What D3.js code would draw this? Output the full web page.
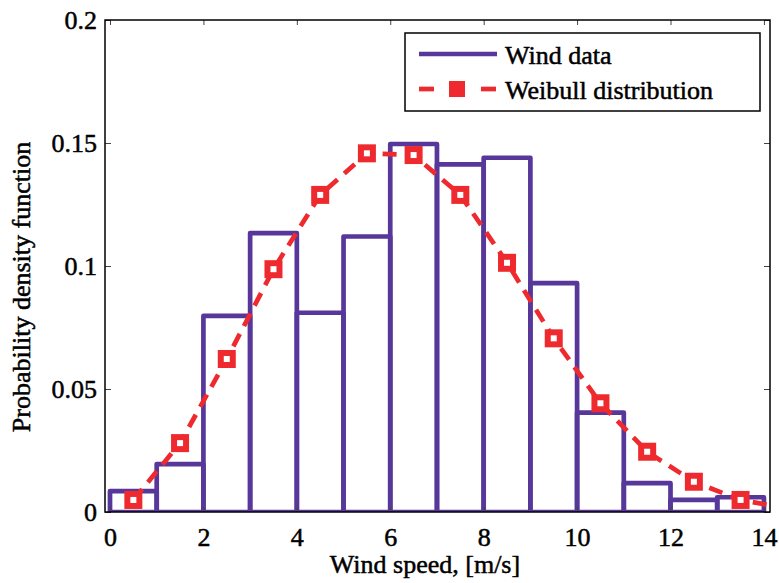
<!DOCTYPE html>
<html>
<head>
<meta charset="utf-8">
<script src="https://cdn.jsdelivr.net/npm/d3@7"></script>
<style>
  body { margin: 0; background: white; }
  text { font-family: "Liberation Serif", "Times New Roman", serif; stroke: black; stroke-width: 0.5px; }
</style>
</head>
<body>
<div id="chart"></div>
<script>
// histogram bins (left edge, 1 m/s wide) and their density
var binLeft = [0, 1, 2, 3, 4, 5, 6, 7, 8, 9, 10, 11, 12, 13];
var windData = [0.0085, 0.0195, 0.0797, 0.1134, 0.081, 0.112, 0.1496, 0.1413, 0.144, 0.093, 0.0404, 0.0117, 0.0049, 0.006];

// fitted weibull, sampled at bin centres (last point runs off the axes)
var weibullX = [0.5, 1.5, 2.5, 3.5, 4.5, 5.5, 6.5, 7.5, 8.5, 9.5, 10.5, 11.5, 12.5, 13.5, 14.5];
var weibullY = [0.0049, 0.028, 0.0622, 0.0987, 0.1289, 0.1458, 0.1451, 0.1289, 0.1013, 0.0706, 0.0442, 0.0245, 0.0123, 0.0049, 0.0015];

var xTicks = [0, 2, 4, 6, 8, 10, 12, 14];
var yTicks = [0, 0.05, 0.1, 0.15, 0.2];

var width = 779, height = 583;
var pLeft = 105, pRight = 770, pTop = 20, pBottom = 512;
var purple = "#57389a", red = "#ee2a2e";

var svg = d3.select("#chart")
  .append("svg")
    .attr("width", width)
    .attr("height", height)
    .style("background", "white");

var x = d3.scaleLinear()
  .domain([-0.107, 14.13])
  .range([pLeft, pRight]);

var y = d3.scaleLinear()
  .domain([0, 0.2])
  .range([pBottom, pTop]);

svg.append("clipPath")
  .attr("id", "plotclip")
  .append("rect")
    .attr("x", pLeft)
    .attr("y", pTop)
    .attr("width", pRight - pLeft)
    .attr("height", pBottom - pTop);

var plot = svg.append("g").attr("clip-path", "url(#plotclip)");

// histogram outlines
plot.append("g")
  .selectAll("rect")
  .data(binLeft)
  .enter()
  .append("rect")
    .attr("x", function(d){ return x(d); })
    .attr("width", function(d){ return x(d + 1) - x(d); })
    .attr("y", function(d, i){ return y(windData[i]); })
    .attr("height", function(d, i){ return y(0) - y(windData[i]); })
    .style("fill", "none")
    .style("stroke", purple)
    .style("stroke-width", 4.7)
    .style("stroke-linejoin", "round");

// weibull dashed line + square markers
var line = d3.line()
  .x(function(d){ return x(d); })
  .y(function(d, i){ return y(weibullY[i]); });

plot.append("path")
  .attr("d", line(weibullX))
  .style("fill", "none")
  .style("stroke", red)
  .style("stroke-width", 4.7)
  .style("stroke-dasharray", "14,9");

plot.append("g")
  .selectAll("rect")
  .data(weibullX)
  .enter()
  .append("rect")
    .attr("x", function(d){ return x(d) - 6; })
    .attr("y", function(d, i){ return y(weibullY[i]) - 6; })
    .attr("width", 12)
    .attr("height", 12)
    .style("fill", "white")
    .style("stroke", red)
    .style("stroke-width", 6);

// axes: ticks point inward on all four sides
var xAxis = svg.append("g")
  .attr("transform", "translate(0," + pBottom + ")")
  .call(d3.axisBottom(x).tickValues(xTicks).tickSizeInner(-5).tickSizeOuter(0).tickFormat(d3.format("d")));
xAxis.selectAll("text").attr("dy", null).attr("y", 34);

var yAxis = svg.append("g")
  .attr("transform", "translate(" + pLeft + ",0)")
  .call(d3.axisLeft(y).tickValues(yTicks).tickSizeInner(-6).tickSizeOuter(0).tickPadding(8)
    .tickFormat(function(d){ return d === 0 ? "0" : String(+d.toFixed(2)); }));

svg.append("g")
  .attr("transform", "translate(0," + pTop + ")")
  .call(d3.axisTop(x).tickValues(xTicks).tickSizeInner(-5).tickSizeOuter(0).tickFormat(""));

svg.append("g")
  .attr("transform", "translate(" + pRight + ",0)")
  .call(d3.axisRight(y).tickValues(yTicks).tickSizeInner(-6).tickSizeOuter(0).tickFormat(""));

svg.selectAll(".domain").remove();
svg.selectAll(".tick line").style("stroke", "#444").style("stroke-width", 1);
svg.selectAll(".tick text")
  .style("font-family", "'Liberation Serif', serif")
  .style("font-size", "26px")
  .style("fill", "black");

svg.append("rect")
  .attr("x", pLeft)
  .attr("y", pTop)
  .attr("width", pRight - pLeft)
  .attr("height", pBottom - pTop)
  .style("fill", "none")
  .style("stroke", "black")
  .style("stroke-width", 1.5);

// axis titles
svg.append("text")
  .attr("x", 425)
  .attr("y", 573)
  .attr("text-anchor", "middle")
  .style("font-size", "26px")
  .text("Wind speed, [m/s]");

svg.append("text")
  .attr("transform", "translate(30,287) rotate(-90)")
  .attr("text-anchor", "middle")
  .style("font-size", "26px")
  .text("Probability density function");

// legend
var legend = svg.append("g");
legend.append("rect")
  .attr("x", 405)
  .attr("y", 33)
  .attr("width", 355)
  .attr("height", 78)
  .style("fill", "white")
  .style("stroke", "black")
  .style("stroke-width", 1.5);

legend.append("line")
  .attr("x1", 419).attr("x2", 497)
  .attr("y1", 54).attr("y2", 54)
  .style("stroke", purple)
  .style("stroke-width", 4.7);

// dash - marker - dash sample
[[419, 434], [481, 496]].forEach(function(seg){
  legend.append("line")
    .attr("x1", seg[0]).attr("x2", seg[1])
    .attr("y1", 89).attr("y2", 89)
    .style("stroke", red)
    .style("stroke-width", 4.7);
});

legend.append("rect")
  .attr("x", 451).attr("y", 83)
  .attr("width", 12).attr("height", 12)
  .style("fill", red)
  .style("stroke", red)
  .style("stroke-width", 4);

legend.append("text")
  .attr("x", 505).attr("y", 64)
  .style("font-size", "26px")
  .text("Wind data");

legend.append("text")
  .attr("x", 505).attr("y", 99)
  .style("font-size", "26px")
  .text("Weibull distribution");
</script>
</body>
</html>
